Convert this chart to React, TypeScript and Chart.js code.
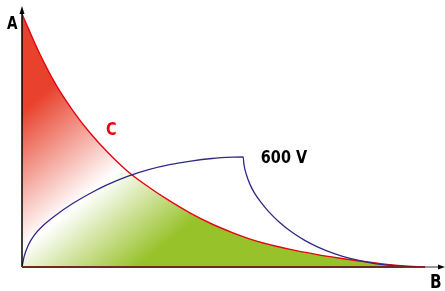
import React, { useEffect, useRef } from "react";
import { Chart, registerables } from "chart.js";

Chart.register(...registerables);

// Curve C (red): x, y in relative units 0..100
const curveCX = [0, 4, 8, 12, 16, 20, 25, 30, 35, 40, 45, 50, 55, 60, 65, 70, 75, 80, 85, 90, 95.5];
const curveCY = [97.7, 83, 70.5, 60.5, 52, 44.8, 37.0, 30.9, 25.5, 20.7, 16.6, 13.2, 10.3, 8.1, 6.3, 4.8, 3.5, 2.3, 1.3, 0.5, 0];

// 600 V curve (blue)
const curveVX = [0, 0.5, 1.5, 3, 5, 8, 12, 16, 20, 25, 30, 35, 40, 45, 50, 52.4, 52.6, 53.2, 54, 55, 56.5, 58.5, 61, 64, 67, 70, 74, 78, 82, 86, 90, 93];
const curveVY = [0, 4, 8.5, 12.5, 16, 20, 24.5, 28.3, 31.6, 35, 37.6, 39.5, 40.9, 41.9, 42.4, 42.5, 39.5, 35.5, 32, 28.8, 25.2, 21.3, 17.3, 13.4, 10.3, 7.8, 5.2, 3.2, 1.8, 0.8, 0.2, 0];

const labelA = "A";
const labelB = "B";
const labelC = "C";
const labelV = "600 V";
const labelCPos = { x: 19.9, y: 51 };
const labelVPos = { x: 56.6, y: 40.2 };

const FONT = "'DejaVu Sans', sans-serif";
const SQUEEZE = 0.8;

export default function App() {
  const ref = useRef<HTMLCanvasElement | null>(null);

  useEffect(() => {
    document.body.style.margin = "0";
    const canvas = ref.current;
    if (!canvas) return;

    const drawText = (ctx: CanvasRenderingContext2D, text: string, x: number, y: number) => {
      ctx.save();
      ctx.translate(x, y);
      ctx.scale(SQUEEZE, 1);
      ctx.fillText(text, 0, 0);
      ctx.restore();
    };

    const decorPlugin = {
      id: "decor",
      afterDraw(chart: any) {
        const { ctx, chartArea: a, scales } = chart;
        const xs = scales.x;
        const ys = scales.y;
        ctx.save();
        // y axis
        ctx.strokeStyle = "#000";
        ctx.lineWidth = 1.5;
        ctx.beginPath();
        ctx.moveTo(a.left, a.bottom);
        ctx.lineTo(a.left, a.top + 4);
        ctx.stroke();
        ctx.fillStyle = "#000";
        ctx.beginPath();
        ctx.moveTo(a.left, a.top - 2);
        ctx.lineTo(a.left - 2.5, a.top + 6);
        ctx.lineTo(a.left + 2.5, a.top + 6);
        ctx.closePath();
        ctx.fill();
        // x axis
        ctx.lineWidth = 1.8;
        ctx.strokeStyle = "#6e2c1e";
        ctx.beginPath();
        ctx.moveTo(a.left, a.bottom);
        ctx.lineTo(xs.getPixelForValue(90.5), a.bottom);
        ctx.stroke();
        ctx.strokeStyle = "#8a1020";
        ctx.beginPath();
        ctx.moveTo(xs.getPixelForValue(90.5), a.bottom);
        ctx.lineTo(xs.getPixelForValue(95.5), a.bottom);
        ctx.stroke();
        ctx.strokeStyle = "#8c8c8c";
        ctx.beginPath();
        ctx.moveTo(xs.getPixelForValue(95.5), a.bottom);
        ctx.lineTo(a.right - 4, a.bottom);
        ctx.stroke();
        ctx.fillStyle = "#000";
        ctx.beginPath();
        ctx.moveTo(a.right + 1, a.bottom);
        ctx.lineTo(a.right - 6, a.bottom - 2.5);
        ctx.lineTo(a.right - 6, a.bottom + 2.5);
        ctx.closePath();
        ctx.fill();
        // labels
        ctx.font = `bold 17px ${FONT}`;
        ctx.fillStyle = "#000";
        ctx.textBaseline = "alphabetic";
        ctx.textAlign = "left";
        drawText(ctx, labelA, a.left - 15, a.top + 21);
        ctx.font = `bold 19px ${FONT}`;
        drawText(ctx, labelB, a.right - 14, a.bottom + 21);
        ctx.font = `bold 18px ${FONT}`;
        ctx.fillStyle = "#e30613";
        drawText(ctx, labelC, xs.getPixelForValue(labelCPos.x), ys.getPixelForValue(labelCPos.y));
        ctx.fillStyle = "#000";
        drawText(ctx, labelV, xs.getPixelForValue(labelVPos.x), ys.getPixelForValue(labelVPos.y));
        ctx.restore();
      },
    };

    const chart = new Chart(canvas, {
      type: "line",
      data: {
        datasets: [
          {
            label: "C",
            data: curveCX.map((x, i) => ({ x, y: curveCY[i] })),
            borderColor: "#e30613",
            borderWidth: 1.4,
            pointRadius: 0,
            cubicInterpolationMode: "monotone",
            fill: "origin",
            backgroundColor: (c: any) => {
              const ch = c.chart;
              const a = ch.chartArea;
              if (!a) return "transparent";
              const w = a.right - a.left;
              const h = a.bottom - a.top;
              const g = ch.ctx.createLinearGradient(a.left, a.top + 0.16 * h, a.left + 0.42 * w, a.bottom);
              g.addColorStop(0, "#e8412c");
              g.addColorStop(0.17, "#e8412c");
              g.addColorStop(0.55, "#ffffff");
              g.addColorStop(0.86, "#98c22a");
              g.addColorStop(1, "#98c22a");
              return g;
            },
            order: 2,
          },
          {
            label: "600 V",
            data: curveVX.map((x, i) => ({ x, y: curveVY[i] })),
            borderColor: "#2f2a85",
            borderWidth: 1.3,
            pointRadius: 0,
            cubicInterpolationMode: "monotone",
            fill: false,
            order: 1,
          },
        ],
      },
      options: {
        responsive: false,
        animation: false,
        layout: { padding: { left: 22, top: 8, right: 1, bottom: 24 } },
        scales: {
          x: { type: "linear", min: 0, max: 100, display: false },
          y: { type: "linear", min: 0, max: 100, display: false },
        },
        plugins: {
          legend: { display: false },
          tooltip: { enabled: false },
        },
      },
      plugins: [decorPlugin],
    });

    return () => chart.destroy();
  }, []);

  return (
    <div style={{ width: 445, height: 291 }}>
      <canvas ref={ref} width={445} height={291} style={{ display: "block" }} />
    </div>
  );
}
